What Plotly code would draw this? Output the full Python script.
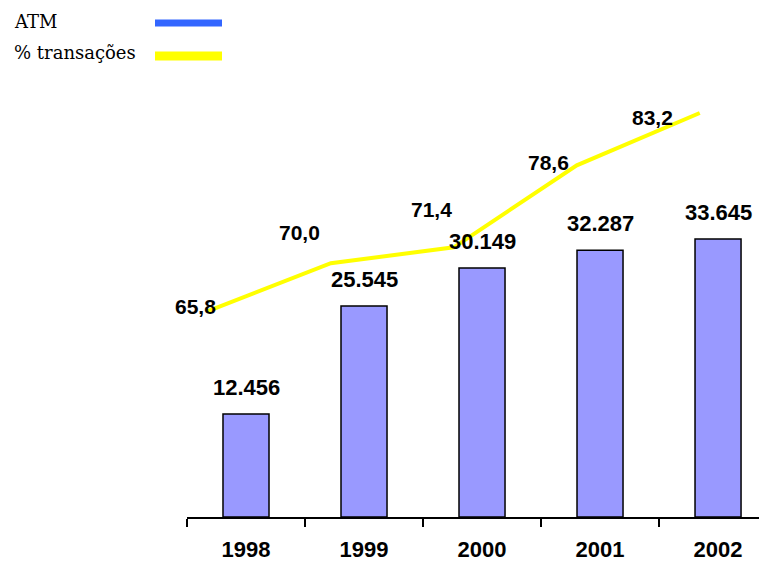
import plotly.graph_objects as go

# ---- data ----
years = ["1998", "1999", "2000", "2001", "2002"]
atm = [12456, 25545, 30149, 32287, 33645]
atm_labels = ["12.456", "25.545", "30.149", "32.287", "33.645"]
pct = [65.8, 70.0, 71.4, 78.6, 83.2]
pct_labels = ["65,8", "70,0", "71,4", "78,6", "83,2"]

# ---- style ----
# the page body adds an 8px margin, so the figure is 8px smaller than the window
W, H = 759, 554
BOTTOM = 45
PLOT_H = H - BOTTOM
LEFT = 179
BAR_COLOR = "#9999FF"
LINE_COLOR = "#FFFF00"
LEGEND_BLUE = "#3366FF"
FONT = "Arial, Liberation Sans"
# label offsets (pixels) relative to each line point
pct_dx = [-12, -31, -22, -28, -47]
pct_dy = [5, 31, 38, 3, -4]

fig = go.Figure()
fig.add_trace(go.Bar(
    x=years, y=atm, width=0.39,
    marker=dict(color=BAR_COLOR, line=dict(color="black", width=1.5)),
    xaxis="x", yaxis="y", name="ATM",
))
fig.add_trace(go.Scatter(
    x=years, y=pct, mode="lines",
    line=dict(color=LINE_COLOR, width=4),
    xaxis="x2", yaxis="y2", name="% transações",
))

annotations = []
for i, (v, t) in enumerate(zip(atm, atm_labels)):
    annotations.append(dict(x=i, y=v, xref="x", yref="y", text="<b>" + t + "</b>",
                            showarrow=False, yanchor="bottom", yshift=12,
                            font=dict(family=FONT, size=22, color="black")))
for i, (v, t, dx, dy) in enumerate(zip(pct, pct_labels, pct_dx, pct_dy)):
    annotations.append(dict(x=i, y=v, xref="x2", yref="y2", text="<b>" + t + "</b>",
                            showarrow=False, xshift=dx, yshift=dy,
                            font=dict(family=FONT, size=21, color="black")))


def py(p):
    return (PLOT_H - p) / PLOT_H


legend_font = dict(family="DejaVu Serif", size=18, color="black")
annotations.append(dict(x=4 / W, y=py(13.5), xref="paper", yref="paper", text="ATM",
                        showarrow=False, xanchor="left", yanchor="middle", font=legend_font))
annotations.append(dict(x=4 / W, y=py(44), xref="paper", yref="paper", text="% transações",
                        showarrow=False, xanchor="left", yanchor="middle", font=legend_font))
shapes = [
    dict(type="line", xref="paper", yref="paper", x0=147 / W, x1=214 / W, y0=py(15), y1=py(15),
         line=dict(color=LEGEND_BLUE, width=7)),
    dict(type="line", xref="paper", yref="paper", x0=147 / W, x1=214 / W, y0=py(48), y1=py(48),
         line=dict(color=LINE_COLOR, width=9)),
]

hidden = dict(showline=False, showticklabels=False, showgrid=False, zeroline=False, ticks="")

fig.update_layout(
    width=W, height=H,
    margin=dict(l=0, r=0, t=0, b=BOTTOM),
    paper_bgcolor="white", plot_bgcolor="white",
    showlegend=False,
    annotations=annotations,
    shapes=shapes,
    xaxis=dict(type="category", domain=[LEFT / W, 1], range=[-0.5, 4.415],
               tickson="boundaries", ticks="outside", ticklen=8, tickwidth=1.5, tickcolor="black",
               showline=True, linecolor="black", linewidth=1.5, showgrid=False, zeroline=False,
               ticklabelstandoff=12,
               tickfont=dict(family=FONT, size=22, color="black", weight="bold")),
    xaxis2=dict(type="category", overlaying="x", range=[-0.17, 4.547], **hidden),
    yaxis=dict(range=[0, 61622], **hidden),
    yaxis2=dict(overlaying="y", range=[47.7, 92.43], **hidden),
)

fig.write_html("out.html")
